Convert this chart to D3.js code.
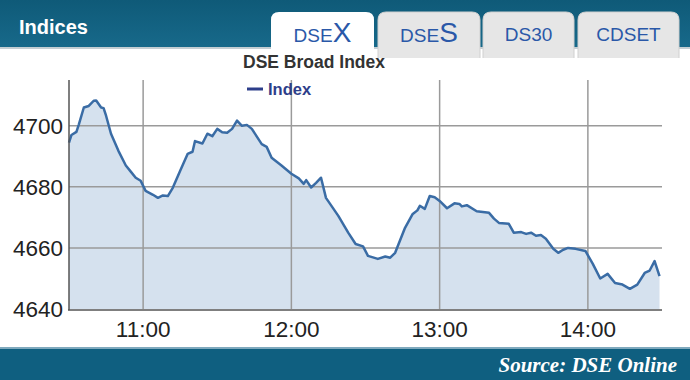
<!DOCTYPE html>
<html>
<head>
<meta charset="utf-8">
<script src="https://cdn.jsdelivr.net/npm/d3@7"></script>
<style>
  body { margin: 0; background: #fff; }
  svg { display: block; font-family: "Liberation Sans", Arial, sans-serif; }
</style>
</head>
<body>
<div id="chart"></div>
<script>
// Intraday DSEX readings (time, index value)
const times = ["10:30","10:31","10:33","10:34","10:36","10:38","10:40","10:41","10:43","10:44",
  "10:45","10:47","10:50","10:53","10:55","10:57","10:59","11:01","11:04","11:06",
  "11:08","11:10","11:12","11:15","11:18","11:20","11:21","11:24","11:26","11:28",
  "11:30","11:32","11:34","11:36","11:38","11:40","11:42","11:44","11:48","11:50",
  "11:52","11:56","12:00","12:03","12:05","12:06","12:08","12:10","12:12","12:14",
  "12:19","12:23","12:26","12:29","12:31","12:35","12:38","12:40","12:42","12:46",
  "12:49","12:51","12:52","12:54","12:56","12:58","13:00","13:03","13:06","13:08",
  "13:09","13:11","13:15","13:20","13:22","13:24","13:28","13:30","13:33","13:35",
  "13:37","13:39","13:41","13:43","13:46","13:48","13:50","13:52","13:55","13:59",
  "14:02","14:05","14:08","14:11","14:14","14:17","14:20","14:23","14:25","14:27",
  "14:29"];
const values = [4694.5,4697,4698,4700.5,4706,4706.5,4708.2,4708.3,4706,4705.8,
  4703.3,4697.4,4691.8,4687,4685,4683,4682,4678.7,4677.4,4676.4,
  4677.2,4677,4679.7,4685.3,4690.8,4691.5,4695,4694.2,4697.4,4696.6,
  4699,4697.9,4697.7,4699,4701.7,4700,4700.3,4699,4694,4693.1,
  4689.5,4687,4684.3,4682.8,4681,4682.2,4679.8,4681.3,4683,4676.4,
  4670.5,4665,4661.3,4660.5,4657.4,4656.4,4657.2,4656.8,4658.4,4666.6,
  4671,4672.3,4673.8,4672.8,4677,4676.6,4675.4,4673,4674.6,4674.4,
  4673.6,4674,4672,4671.5,4669.6,4668.2,4667.9,4665,4665.2,4664.6,
  4665,4664,4664.2,4663,4659.7,4658.4,4659.4,4660,4659.7,4659,
  4654.8,4650,4651.5,4648.5,4648,4646.6,4648,4651.8,4652.6,4655.7,
  4650.8];
const yTicks = [4640, 4660, 4680, 4700];
const xTicks = ["11:00", "12:00", "13:00", "14:00"];
const tabs = ["DSEX", "DSES", "DS30", "CDSET"];

const W = 690, H = 380;
const parse = d3.timeParse("%H:%M");
const data = times.map((t, i) => ({ t: parse(t), v: values[i] }));

const svg = d3.select("#chart").append("svg").attr("width", W).attr("height", H);

// header gradient
const defs = svg.append("defs");
const g1 = defs.append("linearGradient").attr("id", "hdr").attr("x1", 0).attr("x2", 0).attr("y1", 0).attr("y2", 1);
g1.append("stop").attr("offset", 0).attr("stop-color", "#0f5a78");
g1.append("stop").attr("offset", 1).attr("stop-color", "#17698a");

svg.append("rect").attr("x", 0).attr("y", 0).attr("width", W).attr("height", 47).attr("fill", "url(#hdr)");
svg.append("rect").attr("x", 0).attr("y", 47).attr("width", W).attr("height", 2).attr("fill", "#c4ced3");
svg.append("text").attr("x", 19).attr("y", 34).attr("fill", "#fff")
  .attr("font-size", 20).attr("font-weight", "bold").text("Indices");

// tabs
const tabX = [271, 378, 483, 578], tabW = [103, 102, 91, 101];
tabs.forEach((name, i) => {
  const x = tabX[i], w = tabW[i], y = 12, h = 46, r = 8;
  svg.append("path")
    .attr("d", `M${x},${y + h} V${y + r} Q${x},${y} ${x + r},${y} H${x + w - r} Q${x + w},${y} ${x + w},${y + r} V${y + h}`)
    .attr("fill", i === 0 ? "#fff" : "#e6e6e6")
    .attr("stroke", i === 0 ? "none" : "#d0d0d0");
  const t = svg.append("text").attr("x", x + w / 2).attr("y", 42)
    .attr("text-anchor", "middle").attr("fill", "#2a58a8").attr("font-size", 19);
  if (i < 2) {
    t.append("tspan").text(name.slice(0, 3));
    t.append("tspan").attr("font-size", 28).text(name.slice(3));
  } else {
    t.attr("y", 41).text(name);
  }
});

// plot
const x = d3.scaleTime().domain([parse("10:30"), parse("14:30")]).range([69, 662]);
const y = d3.scaleLinear().domain([4640, 4715]).range([309, 80]);

svg.append("path").datum(data)
  .attr("fill", "#d5e1ee")
  .attr("d", d3.area().x(d => x(d.t)).y0(y(4640)).y1(d => y(d.v)));

svg.append("g").selectAll("line").data(yTicks.slice(1)).join("line")
  .attr("x1", 69).attr("x2", 662).attr("y1", d => y(d)).attr("y2", d => y(d))
  .attr("stroke", "#9a9a9a").attr("stroke-width", 1.5);
svg.append("g").selectAll("line").data(xTicks).join("line")
  .attr("x1", d => x(parse(d))).attr("x2", d => x(parse(d)))
  .attr("y1", 80).attr("y2", 309)
  .attr("stroke", "#9a9a9a").attr("stroke-width", 1.5);

svg.append("path").datum(data)
  .attr("fill", "none").attr("stroke", "#3a6ca5").attr("stroke-width", 2.5)
  .attr("stroke-linejoin", "round")
  .attr("d", d3.line().x(d => x(d.t)).y(d => y(d.v)));

// axes lines
svg.append("line").attr("x1", 69).attr("x2", 69).attr("y1", 80).attr("y2", 310)
  .attr("stroke", "#555").attr("stroke-width", 1.5);
svg.append("line").attr("x1", 68).attr("x2", 662).attr("y1", 310).attr("y2", 310)
  .attr("stroke", "#555").attr("stroke-width", 1.5);

// tick labels
svg.append("g").selectAll("text").data(yTicks).join("text")
  .attr("x", 63).attr("y", d => y(d) + 8).attr("text-anchor", "end")
  .attr("font-size", 22.5).attr("fill", "#222").text(d => d);
svg.append("g").selectAll("text").data(xTicks).join("text")
  .attr("x", d => x(parse(d))).attr("y", 337).attr("text-anchor", "middle")
  .attr("font-size", 22.5).attr("fill", "#222").text(d => d);

// title + legend
svg.append("text").attr("x", 243).attr("y", 68)
  .attr("font-size", 17.5).attr("font-weight", "bold").attr("fill", "#333").text("DSE Broad Index");
svg.append("line").attr("x1", 247).attr("x2", 263).attr("y1", 89).attr("y2", 89)
  .attr("stroke", "#2d3e8a").attr("stroke-width", 3);
svg.append("text").attr("x", 268).attr("y", 95)
  .attr("font-size", 16.5).attr("font-weight", "bold").attr("fill", "#2d3e8a").text("Index");

// footer
svg.append("rect").attr("x", 0).attr("y", 347).attr("width", W).attr("height", 2).attr("fill", "#7fa9bd");
svg.append("rect").attr("x", 0).attr("y", 349).attr("width", W).attr("height", 31).attr("fill", "#0f5f80");
svg.append("text").attr("x", 677).attr("y", 372).attr("text-anchor", "end")
  .attr("font-family", "'Liberation Serif', 'Times New Roman', serif")
  .attr("font-style", "italic").attr("font-weight", "bold").attr("font-size", 21)
  .attr("fill", "#fff").text("Source: DSE Online");
</script>
</body>
</html>
